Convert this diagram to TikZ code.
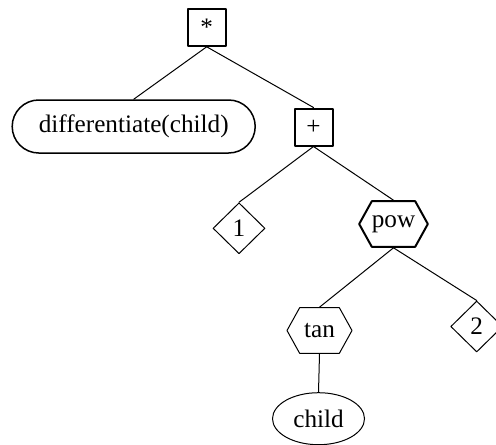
\documentclass[tikz,border=0pt]{standalone}
\usepackage{fontspec}
\setmainfont{Liberation Serif}
\usetikzlibrary{shapes.geometric,shapes.misc,shapes.symbols}

\begin{document}
\begin{tikzpicture}[x=0.5pt,y=-0.5pt,line cap=round,line join=round,
  every node/.style={font=\fontsize{12.6}{15}\selectfont,inner sep=0pt},
  opbox/.style={draw,line width=1pt,minimum width=19pt,minimum height=18.5pt},
  callnode/.style={draw,rounded rectangle,line width=0.75pt,minimum width=121.5pt,minimum height=26.5pt},
  constnode/.style={draw,diamond,line width=0.5pt,minimum width=26pt,minimum height=25.5pt},
  funcnode/.style={draw,signal,signal to=east and west,signal pointer angle=122,minimum width=32.5pt,minimum height=22.8pt},
  varnode/.style={draw,ellipse,line width=0.5pt,minimum width=46pt,minimum height=26pt},
  branch/.style={line width=0.5pt}]
\useasboundingbox (0,0) rectangle (496,444);

\node [opbox] (star) at (206.7,27.3) {*};
\node [callnode] (diff) at (133.7,126.5) {differentiate(child)};
\node [opbox] (plus) at (313.5,127) {+};
\node [constnode] (one) at (239,228.3) {1};
\node [funcnode,line width=1pt] (pow) at (393.5,224) {pow};
\node [funcnode,line width=0.5pt] (tan) at (319.5,330.5) {tan};
\node [constnode] (two) at (476.7,326.5) {2};
\node [varnode] (child) at (318.5,418.7) {child};

\draw [branch] (star.south) -- (diff.north);
\draw [branch] (star.south) -- (plus.north);
\draw [branch] (plus.south) -- (one.north);
\draw [branch] (plus.south) -- (pow.north);
\draw [branch] (pow.south) -- (tan.north);
\draw [branch] (pow.south) -- (two.north);
\draw [branch] (tan.south) -- (child.north);
\end{tikzpicture}
\end{document}
